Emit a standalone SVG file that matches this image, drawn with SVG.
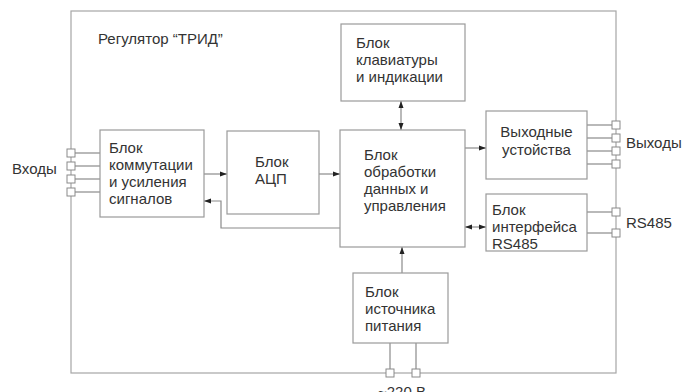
<svg xmlns="http://www.w3.org/2000/svg" width="686" height="392" viewBox="0 0 686 392">
<style>
.frame{fill:none;stroke:#a6a6a6;stroke-width:1.2}
.box{fill:#fff;stroke:#9a9a9a;stroke-width:1.2}
.ln{fill:none;stroke:#8a8a8a;stroke-width:1.2}
.pin{fill:#fff;stroke:#8a8a8a;stroke-width:1}
text{font-family:"Liberation Sans",Arial,sans-serif;font-size:15px;fill:#333}
.c{text-anchor:middle}
</style>
<defs>
<marker id="ah" markerWidth="8" markerHeight="6" refX="7" refY="3" orient="auto-start-reverse" markerUnits="userSpaceOnUse">
<path d="M0,0.5 L7,3 L0,5.5 Z" fill="#222"/>
</marker>
</defs>
<rect width="686" height="392" fill="#fff"/>
<rect id="frame" class="frame" x="71" y="11" width="545" height="362"/>
<text x="98" y="44">Регулятор “ТРИД”</text>

<g id="connectors">
<!-- inputs -->
<line class="ln" x1="75" y1="153" x2="100" y2="153"/>
<line class="ln" x1="75" y1="166" x2="100" y2="166"/>
<line class="ln" x1="75" y1="179" x2="100" y2="179"/>
<line class="ln" x1="75" y1="192" x2="100" y2="192"/>
<!-- outputs -->
<line class="ln" x1="587" y1="125" x2="612" y2="125"/>
<line class="ln" x1="587" y1="138" x2="612" y2="138"/>
<line class="ln" x1="587" y1="151" x2="612" y2="151"/>
<line class="ln" x1="587" y1="164" x2="612" y2="164"/>
<!-- RS485 -->
<line class="ln" x1="587" y1="212" x2="612" y2="212"/>
<line class="ln" x1="587" y1="233" x2="612" y2="233"/>
<!-- power -->
<line class="ln" x1="390" y1="343" x2="390" y2="369"/>
<line class="ln" x1="416" y1="343" x2="416" y2="369"/>
<!-- arrows -->
<line class="ln" x1="204" y1="174" x2="227" y2="174" marker-end="url(#ah)"/>
<line class="ln" x1="319" y1="174" x2="340" y2="174" marker-end="url(#ah)"/>
<polyline class="ln" points="340,228 221,228 221,201 204,201" marker-end="url(#ah)"/>
<line class="ln" x1="401" y1="101" x2="401" y2="130" marker-start="url(#ah)" marker-end="url(#ah)"/>
<line class="ln" x1="465" y1="148" x2="486" y2="148" marker-end="url(#ah)"/>
<line class="ln" x1="465" y1="227" x2="486" y2="227" marker-start="url(#ah)" marker-end="url(#ah)"/>
<line class="ln" x1="402" y1="273" x2="402" y2="247" marker-end="url(#ah)"/>
</g>

<g id="pins">
<rect class="pin" x="67" y="149" width="8" height="8"/>
<rect class="pin" x="67" y="162" width="8" height="8"/>
<rect class="pin" x="67" y="175" width="8" height="8"/>
<rect class="pin" x="67" y="188" width="8" height="8"/>
<rect class="pin" x="612" y="121" width="8" height="8"/>
<rect class="pin" x="612" y="134" width="8" height="8"/>
<rect class="pin" x="612" y="147" width="8" height="8"/>
<rect class="pin" x="612" y="160" width="8" height="8"/>
<rect class="pin" x="612" y="208" width="8" height="8"/>
<rect class="pin" x="612" y="229" width="8" height="8"/>
<rect class="pin" x="386" y="369" width="8" height="8"/>
<rect class="pin" x="412" y="369" width="8" height="8"/>
</g>

<g id="n-komm">
<rect class="box" x="100" y="130" width="104" height="87"/>
<text x="109" y="153">Блок</text>
<text x="109" y="170">коммутации</text>
<text x="109" y="187">и усиления</text>
<text x="109" y="204">сигналов</text>
</g>
<g id="n-adc">
<rect class="box" x="227" y="131" width="92" height="83"/>
<text x="255" y="167">Блок</text>
<text x="255" y="184">АЦП</text>
</g>
<g id="n-cpu">
<rect class="box" x="340" y="130" width="125" height="117"/>
<text x="364" y="160">Блок</text>
<text x="364" y="177">обработки</text>
<text x="364" y="194">данных и</text>
<text x="364" y="211">управления</text>
</g>
<g id="n-kbd">
<rect class="box" x="341" y="24" width="124" height="77"/>
<text x="356" y="48">Блок</text>
<text x="356" y="65">клавиатуры</text>
<text x="356" y="82">и индикации</text>
</g>
<g id="n-out">
<rect class="box" x="486" y="111" width="101" height="68"/>
<text class="c" x="536.5" y="137">Выходные</text>
<text class="c" x="536.5" y="155">устойства</text>
</g>
<g id="n-rs">
<rect class="box" x="486" y="194" width="101" height="57"/>
<text x="492" y="215">Блок</text>
<text x="492" y="232">интерфейса</text>
<text x="492" y="249">RS485</text>
</g>
<g id="n-psu">
<rect class="box" x="353" y="273" width="95" height="70"/>
<text x="365" y="297">Блок</text>
<text x="365" y="314">источника</text>
<text x="365" y="331">питания</text>
</g>

<text x="12" y="174">Входы</text>
<text x="626" y="148">Выходы</text>
<text x="626" y="228">RS485</text>
<text x="378" y="397">~220 В</text>
</svg>
